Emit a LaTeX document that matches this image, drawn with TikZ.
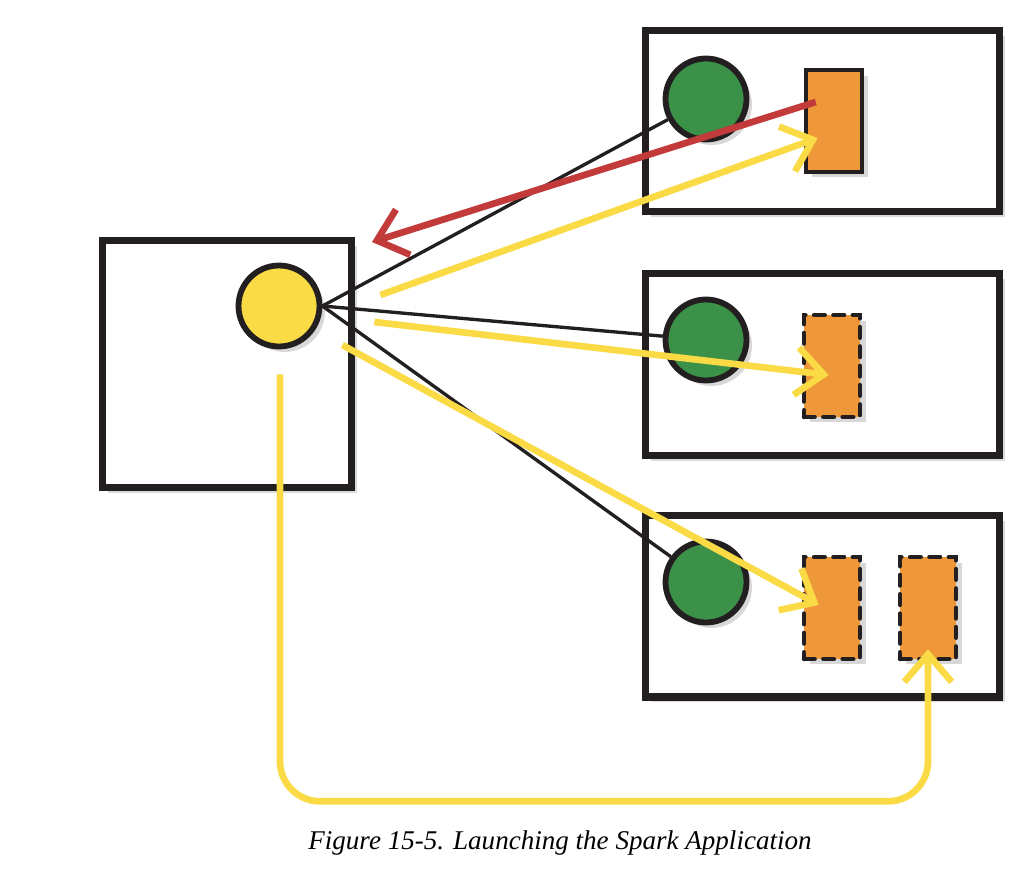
\documentclass[tikz,border=0pt]{standalone}
\usepackage{fontspec}
\setmainfont{Liberation Serif}
\usetikzlibrary{arrows.meta, positioning, shadows, calc}

\definecolor{inkblack}{HTML}{231F20}
\definecolor{sparkyellow}{HTML}{FADB45}
\definecolor{execgreen}{HTML}{3A9147}
\definecolor{taskorange}{HTML}{EE9839}
\definecolor{returnred}{HTML}{C23A3A}

\begin{document}
\begin{tikzpicture}[x=0.02cm, y=-0.02cm,
      softshadow/.style={drop shadow={opacity=0.3, shadow xshift=0.11cm, shadow yshift=-0.11cm}},
      box/.style={rectangle, draw=inkblack, line width=4pt, fill=white, softshadow},
      dot/.style={circle, draw=inkblack, line width=3.3pt, minimum size=1.62cm, inner sep=0pt, softshadow},
      task/.style={rectangle, fill=taskorange, draw=inkblack, line width=2.6pt, minimum width=1.12cm, minimum height=2.04cm, inner sep=0pt, softshadow},
      dtask/.style={task, dash pattern=on 6pt off 5pt, line cap=round},
      link/.style={draw=inkblack, line width=1.9pt},
      yarrow/.style={-{Straight Barb[length=0.55cm, width=0.95cm]}, draw=sparkyellow, line width=3.8pt},
      rarrow/.style={-{Straight Barb[length=0.55cm, width=0.95cm]}, draw=returnred, line width=3.8pt}
    ]
    \useasboundingbox (0,0) rectangle (1026,868);

    % Nodes
    \node[box, minimum width=5cm, minimum height=4.96cm] (driver) at (227,364) {};
    \node[dot, fill=sparkyellow] (drv) at (279,306) {};

    \node[box, minimum width=7.1cm, minimum height=3.64cm] (w1) at (822.5,121) {};
    \node[box, minimum width=7.1cm, minimum height=3.64cm] (w2) at (822.5,364.5) {};
    \node[box, minimum width=7.1cm, minimum height=3.64cm] (w3) at (822.5,606) {};

    \node[dot, fill=execgreen] (ex1) at (706,99) {};
    \node[dot, fill=execgreen] (ex2) at (706,340) {};
    \node[dot, fill=execgreen] (ex3) at (706,582) {};

    \node[task] (t1) at (834,121) {};
    \node[dtask] (t2) at (832,366) {};
    \node[dtask] (t3a) at (832,608) {};
    \node[dtask] (t3b) at (928,608) {};

    \node[font=\itshape\fontsize{15.4}{18}\selectfont] (caption) at (560,843) {Figure 15-5. Launching the Spark Application};

    % Links
    \draw[link] (drv.east) -- (ex1);
    \draw[link] (drv.east) -- (ex2);
    \draw[link] (drv.east) -- (ex3);

    % Arrows
    \draw[rarrow] ($(t1.west)+(12,-19)$) -- ($(drv.center)+(93,-64)$);
    \draw[yarrow] ($(drv.east)+(58,-11)$) -- ($(t1.west)+(14,17)$);
    \draw[yarrow] ($(drv.east)+(52,16)$) -- ($(t2.west)+(27,9)$);
    \draw[yarrow] ($(drv.east)+(20,39)$) -- ($(t3a.west)+(17,-3)$);
    \draw[yarrow, rounded corners=0.8cm] ($(drv.south)+(1,25)$) |- ($(t3b.south)+(0,140)$) -- ($(t3b.south)+(0,-12)$);

\end{tikzpicture}
\end{document}
